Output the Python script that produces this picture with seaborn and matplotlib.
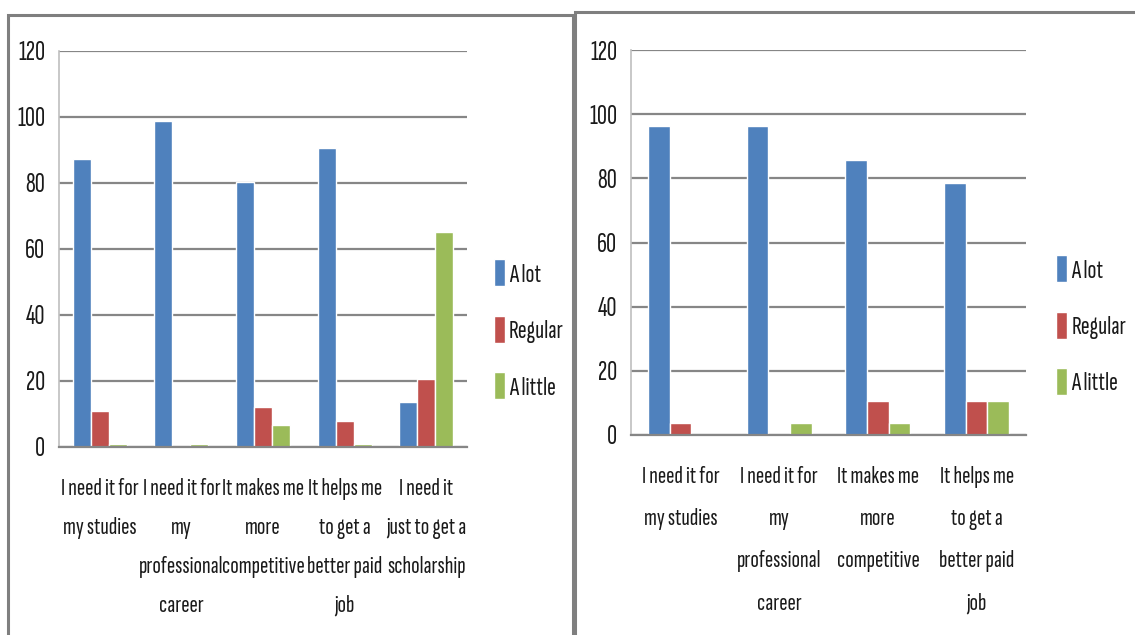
import pandas as pd
import seaborn as sns
import matplotlib.pyplot as plt
from matplotlib import font_manager
from matplotlib.patches import Rectangle

# categories / series
levels = ["A lot", "Regular", "A little"]

left_reasons = [
    "I need it for\nmy studies",
    "I need it for\nmy\nprofessional\ncareer",
    "It makes me\nmore\ncompetitive",
    "It helps me\nto get a\nbetter paid\njob",
    "I need it\njust to get a\nscholarship",
]
left_a_lot = [87.2, 98.9, 80.2, 90.6, 13.6]
left_regular = [10.8, 0.0, 12.1, 8.0, 20.5]
left_a_little = [1.0, 1.0, 6.6, 1.0, 65.0]

right_reasons = [
    "I need it for\nmy studies",
    "I need it for\nmy\nprofessional\ncareer",
    "It makes me\nmore\ncompetitive",
    "It helps me\nto get a\nbetter paid\njob",
]
right_a_lot = [96.4, 96.4, 85.7, 78.6]
right_regular = [3.6, 0.0, 10.7, 10.7]
right_a_little = [0.0, 3.6, 3.6, 10.7]

palette = {"A lot": "#4F81BD", "Regular": "#C0504D", "A little": "#9BBB59"}

W, H = 1135, 635

# narrow font like the squeezed Calibri of the original, if there is one
installed = {f.name for f in font_manager.fontManager.ttflist}
narrow = [f for f in ["Sofia Sans Extra Condensed", "Encode Sans Compressed",
                      "Saira Extra Condensed", "Pathway Gothic One",
                      "Fira Sans Extra Condensed", "Archivo Narrow"] if f in installed]
FONT = narrow[:1] + ["Liberation Sans", "DejaVu Sans"]


def to_long(reasons, a_lot, regular, a_little):
    rows = []
    for r, a, b, c in zip(reasons, a_lot, regular, a_little):
        rows.append((r, "A lot", a))
        rows.append((r, "Regular", b))
        rows.append((r, "A little", c))
    return pd.DataFrame(rows, columns=["reason", "level", "value"])


def px_axes(fig, x0, x1, y_top, y_bot):
    return fig.add_axes([x0 / W, (H - y_bot) / H, (x1 - x0) / W, (y_bot - y_top) / H])


def draw_panel(ax, df, reasons, legend_xy, lsp):
    sns.barplot(data=df, x="reason", y="value", hue="level", hue_order=levels,
                order=reasons, palette=palette, width=0.66, saturation=1,
                ax=ax, errorbar=None)
    n = len(reasons)
    ax.set_xlim(-0.5, n - 0.5)
    ax.set_ylim(0, 120)
    ax.set_yticks(range(0, 121, 20))
    ax.set_xlabel("")
    ax.set_ylabel("")
    ax.grid(axis="y", color="#868686", linewidth=1.6)
    ax.set_axisbelow(True)
    for s in ["top", "right"]:
        ax.spines[s].set_visible(False)
    ax.spines["left"].set_color("#BFBFBF")
    ax.spines["left"].set_linewidth(1.2)
    ax.spines["bottom"].set_color("#868686")
    ax.spines["bottom"].set_linewidth(1.6)
    ax.tick_params(axis="y", length=6, width=1.6, color="#868686",
                   labelsize=20, pad=4)
    # category labels centred, tick marks between categories
    ax.set_xticks(range(n))
    ax.set_xticklabels(reasons, fontsize=18, linespacing=lsp)
    ax.tick_params(axis="x", which="major", length=0, pad=22)
    ax.set_xticks([i - 0.5 for i in range(n + 1)], minor=True)
    ax.tick_params(axis="x", which="minor", length=11, width=1.2, color="#BFBFBF")
    ax.legend(loc="center left", bbox_to_anchor=legend_xy, frameon=False,
              fontsize=19, handlelength=0.42, handleheight=1.2,
              handletextpad=0.15, labelspacing=1.1, borderaxespad=0)


sns.set_style("white")
plt.rcParams["font.family"] = FONT
plt.rcParams["text.color"] = "#1A1A1A"
plt.rcParams["xtick.color"] = "#1A1A1A"
plt.rcParams["ytick.color"] = "#1A1A1A"

fig = plt.figure(figsize=(W / 100, H / 100), dpi=100)

# panel frames
fig.patches.append(Rectangle((8 / W, -0.05), (573 - 8) / W, 1.05 - 15 / H,
                             transform=fig.transFigure, fill=False,
                             edgecolor="#7F7F7F", linewidth=2.2))
fig.patches.append(Rectangle((575 / W, -0.05), 0.6, 1.05 - 12 / H,
                             transform=fig.transFigure, fill=False,
                             edgecolor="#7F7F7F", linewidth=2.2))

ax1 = px_axes(fig, 59, 467, 51, 447)
draw_panel(ax1, to_long(left_reasons, left_a_lot, left_regular, left_a_little),
           left_reasons, (1.04, 0.297), 2.0)

ax2 = px_axes(fig, 631, 1026, 50, 435)
draw_panel(ax2, to_long(right_reasons, right_a_lot, right_regular, right_a_little),
           right_reasons, (1.05, 0.285), 2.2)

fig.savefig("out.png", dpi=100)
